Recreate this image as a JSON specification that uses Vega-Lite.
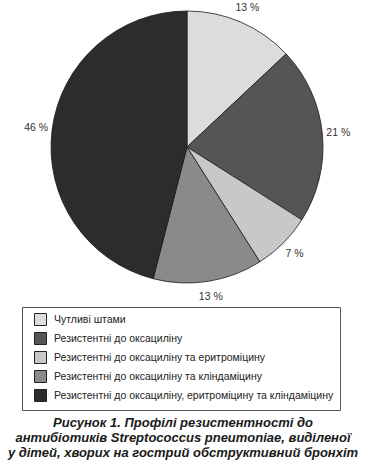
{
  "$schema": "https://vega.github.io/schema/vega-lite/v6.json",
  "width": 358,
  "height": 406,
  "autosize": {"type": "none"},
  "padding": {"left": 4, "top": 4, "right": 4, "bottom": 54},
  "background": "white",
  "config": {"view": {"stroke": "#222222", "strokeWidth": 1}, "font": "Liberation Sans"},
  "data": {
    "values": [
      {"idx": 1, "group": "Чутливі штами", "pct": 13, "label": "13 %"},
      {"idx": 2, "group": "Резистентні до оксациліну", "pct": 21, "label": "21 %"},
      {"idx": 3, "group": "Резистентні до оксациліну та еритроміцину", "pct": 7, "label": "7 %"},
      {"idx": 4, "group": "Резистентні до оксациліну та кліндаміцину", "pct": 13, "label": "13 %"},
      {"idx": 5, "group": "Резистентні до оксациліну, еритроміцину та кліндаміцину", "pct": 46, "label": "46 %"}
    ]
  },
  "title": {
    "text": ["Рисунок 1. Профілі резистентності до", "антибіотиків Streptococcus pneumoniae, виділеної", "у дітей, хворих на гострий обструктивний бронхіт"],
    "orient": "bottom",
    "anchor": "middle",
    "font": "Liberation Sans",
    "fontSize": 13,
    "fontStyle": "italic",
    "fontWeight": "bold",
    "color": "#1a1a1a",
    "lineHeight": 15,
    "offset": 6
  },
  "encoding": {
    "theta": {"field": "pct", "type": "quantitative", "stack": true},
    "order": {"field": "idx", "type": "quantitative"}
  },
  "layer": [
    {
      "mark": {"type": "arc", "outerRadius": 136, "x": 183, "y": 143, "stroke": "#1a1a1a", "strokeWidth": 0.8},
      "encoding": {
        "color": {
          "field": "group",
          "type": "nominal",
          "scale": {
            "domain": ["Чутливі штами", "Резистентні до оксациліну", "Резистентні до оксациліну та еритроміцину", "Резистентні до оксациліну та кліндаміцину", "Резистентні до оксациліну, еритроміцину та кліндаміцину"],
            "range": ["#dcdcdc", "#555555", "#c8c8c8", "#8a8a8a", "#2c2c2c"]
          },
          "legend": {
            "orient": "none",
            "legendX": 18,
            "legendY": 303,
            "title": null,
            "symbolType": "square",
            "symbolSize": 144,
            "symbolStrokeColor": "#222222",
            "symbolStrokeWidth": 1,
            "symbolOffset": 6,
            "labelFont": "Liberation Sans",
            "labelFontSize": 10.5,
            "labelColor": "#222222",
            "labelLimit": 400,
            "labelOffset": 7,
            "rowPadding": 2,
            "strokeColor": "#555555",
            "padding": 6
          }
        }
      }
    },
    {
      "mark": {"type": "text", "radius": 152, "x": 183, "y": 143, "font": "Liberation Sans", "fontSize": 10.5, "fill": "#333333"},
      "encoding": {"text": {"field": "label"}}
    }
  ]
}
